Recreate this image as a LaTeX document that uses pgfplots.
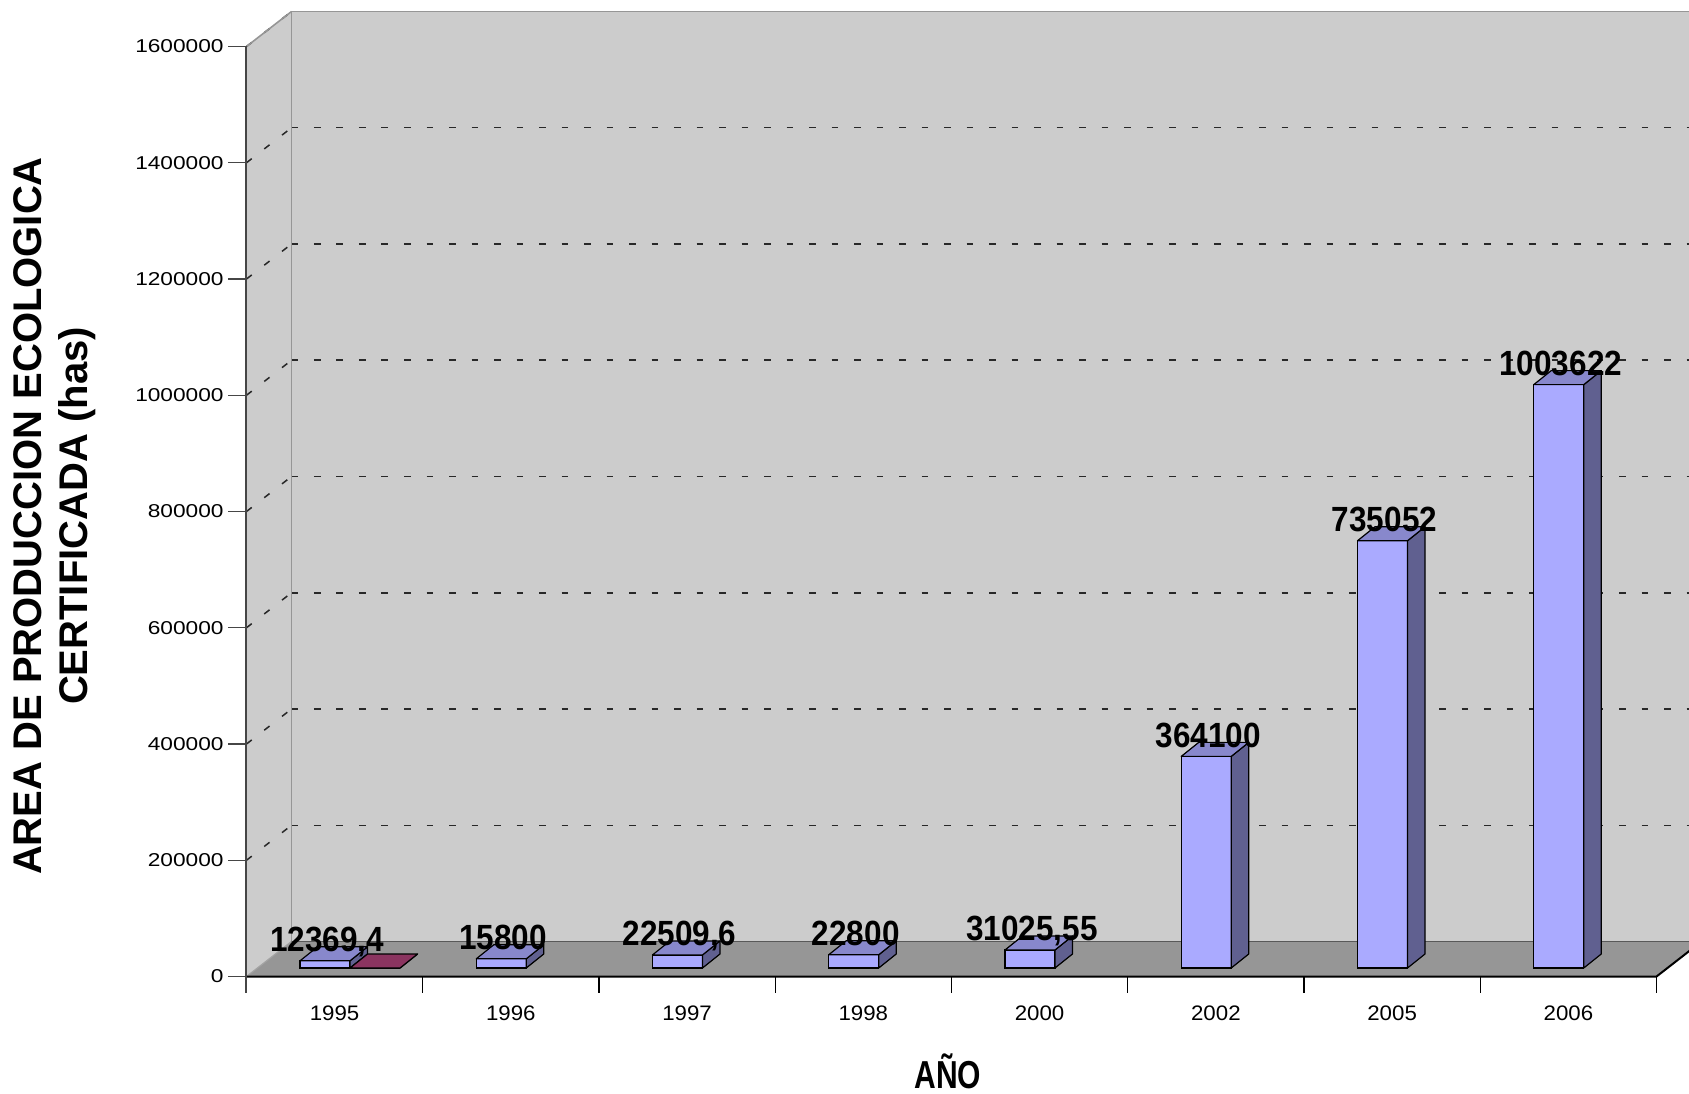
\documentclass[border=0pt]{standalone}
\usepackage{pgfplots}
\pgfplotsset{compat=1.18}
\usepackage{pgfplotstable}
\usepackage{fontspec}
\setmainfont{Liberation Sans}
\newfontfamily\ytickfont[FakeStretch=1.22]{Liberation Sans}
\newfontfamily\xtickfont[FakeStretch=1.06]{Liberation Sans}
\newfontfamily\valfont[FakeStretch=0.9]{Liberation Sans}
\newfontfamily\xtitlefont[FakeStretch=0.77]{Liberation Sans}

\definecolor{wallc}{RGB}{204,204,204}
\definecolor{floorc}{RGB}{150,150,150}
\definecolor{edgec}{RGB}{150,150,150}
\definecolor{barfront}{RGB}{170,170,255}
\definecolor{bartop}{RGB}{136,136,204}
\definecolor{barside}{RGB}{96,96,144}
\definecolor{maroonfront}{RGB}{153,51,102}
\definecolor{maroontop}{RGB}{139,52,96}
\definecolor{maroonside}{RGB}{100,35,70}
\definecolor{gridc}{RGB}{40,40,40}
\definecolor{axisc}{RGB}{70,70,70}

\pgfdeclareplotmark{empty}{}

\pgfplotstableread{
i   v          lbl
0   12369.4    12369,4
1   15800      15800
2   22509.6    22509,6
3   22800      22800
4   31025.55   31025,55
5   364100     364100
6   735052     735052
7   1003622    1003622
}\seriesA
\pgfplotstableread{
i   v
0   0
}\seriesB

\pgfplotsset{
  cuboid/.style 2 args={
    scatter, only marks, mark=empty,
    point meta=explicit, point meta min=0, point meta max=1600000,
    scatter/@pre marker code/.code={%
      \pgfmathsetmacro\hh{\pgfplotspointmetatransformed*0.465}%
      \fill[#2, draw=black, line width=0.6pt, line join=round]
        (12.5pt,0pt) -- (21.25pt,7pt) -- (21.25pt,{\hh pt+7pt}) -- (12.5pt,{\hh pt}) -- cycle;
      \fill[#1, draw=black, line width=0.6pt, line join=round]
        (-12.5pt,{\hh pt}) -- (12.5pt,{\hh pt}) -- (21.25pt,{\hh pt+7pt}) -- (-3.75pt,{\hh pt+7pt}) -- cycle;
    },
    scatter/@post marker code/.code={},
  },
}

\begin{document}
\begin{tikzpicture}
\useasboundingbox (-128.75pt,-62.5pt) rectangle (715.75pt,484pt);
\begin{axis}[
  at={(0pt,0pt)}, anchor=south west,
  scale only axis, width=705pt, height=465pt,
  xmin=0, xmax=8, ymin=0, ymax=1600000,
  clip=false,
  axis line style={draw=none},
  tick style={draw=none},
  major tick length=0pt,
  scaled y ticks=false,
  xtick={0.5,1.5,2.5,3.5,4.5,5.5,6.5,7.5},
  xticklabels={1995,1996,1997,1998,2000,2002,2005,2006},
  ytick={0,200000,400000,600000,800000,1000000,1200000,1400000,1600000},
  yticklabels={0,200000,400000,600000,800000,1000000,1200000,1400000,1600000},
  xticklabel style={font=\xtickfont\fontsize{10.5}{12}\selectfont, anchor=north, inner sep=0pt, xshift=-5.5pt, yshift=-18.5pt},
  yticklabel style={font=\ytickfont\fontsize{9.3}{11}\selectfont, anchor=east, inner sep=0pt, xshift=-16.75pt, yshift=-4.25pt},
  xlabel={AÑO},
  xlabel style={at={(axis description cs:0.4897,0)}, anchor=base, yshift=-60pt, inner sep=0pt,
    font=\xtitlefont\bfseries\fontsize{19.5}{22}\selectfont},
  ylabel={AREA DE PRODUCCION ECOLOGICA\\CERTIFICADA (has)},
  ylabel style={at={(axis description cs:-0.1436,0.486)}, anchor=center, align=center,
    font=\bfseries\fontsize{20}{23}\selectfont},
]
% back wall
\fill[wallc] ([xshift=17pt,yshift=13.25pt]axis cs:0,0) rectangle ([xshift=17pt,yshift=13.25pt]axis cs:8.3,1600000);
% side wall
\fill[wallc] ([xshift=-5.5pt,yshift=-4.25pt]axis cs:0,0) -- ([xshift=-5.5pt,yshift=-4.25pt]axis cs:0,1600000)
  -- ([xshift=17pt,yshift=13.25pt]axis cs:0,1600000) -- ([xshift=17pt,yshift=13.25pt]axis cs:0,0) -- cycle;
% gridlines
\pgfplotsinvokeforeach{0,200000,400000,600000,800000,1000000,1200000,1400000}{
  \draw[gridc, dash pattern=on 3.35pt off 7.9pt, line width=0.75pt]
    ([xshift=17pt,yshift=13.25pt]axis cs:0,#1) -- ([xshift=17pt,yshift=13.25pt]axis cs:8.3,#1);
}
\pgfplotsinvokeforeach{200000,400000,600000,800000,1000000,1200000,1400000,1600000}{
  \draw[gridc, dash pattern=on 3.35pt off 7.9pt, line width=0.75pt]
    ([xshift=-5.5pt,yshift=-4.25pt]axis cs:0,#1) -- ([xshift=17pt,yshift=13.25pt]axis cs:0,#1);
}
% wall edges
\draw[edgec, line width=0.8pt] ([xshift=17pt,yshift=13.25pt]axis cs:0,0) -- ([xshift=17pt,yshift=13.25pt]axis cs:0,1600000)
  -- ([xshift=17pt,yshift=13.25pt]axis cs:8.3,1600000);
\draw[edgec, line width=0.8pt] ([xshift=-5.5pt,yshift=-4.25pt]axis cs:0,1600000) -- ([xshift=17pt,yshift=13.25pt]axis cs:0,1600000);
% floor
\fill[floorc] ([xshift=-5.5pt,yshift=-4.25pt]axis cs:0,0) -- ([xshift=-5.5pt,yshift=-4.25pt]axis cs:8,0)
  -- ([xshift=17pt,yshift=13.25pt]axis cs:8,0) -- ([xshift=17pt,yshift=13.25pt]axis cs:0,0) -- cycle;
\draw[gray!70!black, line width=0.6pt] ([xshift=17pt,yshift=13.25pt]axis cs:0,0) -- ([xshift=17pt,yshift=13.25pt]axis cs:8.3,0);
\draw[wallc!80!black, line width=0.6pt] ([xshift=-5.5pt,yshift=-4.25pt]axis cs:0,0) -- ([xshift=17pt,yshift=13.25pt]axis cs:0,0);
\draw[black, line width=1pt] ([xshift=-5.5pt,yshift=-4.25pt]axis cs:0,0) -- ([xshift=-5.5pt,yshift=-4.25pt]axis cs:8,0)
  -- ([xshift=17pt,yshift=13.25pt]axis cs:8,0);
% front y axis line and ticks
\draw[axisc, line width=1pt] ([xshift=-5.5pt,yshift=-4.25pt]axis cs:0,1600000) -- ([xshift=-5.5pt,yshift=-4.25pt]axis cs:0,0) -- ++(0,-8pt);
\pgfplotsinvokeforeach{0,200000,400000,600000,800000,1000000,1200000,1400000,1600000}{
  \draw[axisc, line width=0.6pt] ([xshift=-5.5pt,yshift=-4.25pt]axis cs:0,#1) -- ++(-9pt,0);
}
\pgfplotsinvokeforeach{1,2,3,4,5,6,7,8}{
  \draw[black, line width=0.6pt] ([xshift=-5.5pt,yshift=-4.25pt]axis cs:#1,0) -- ++(0,-8pt);
}
% bars: front faces
\addplot[ybar, bar width=25pt, bar shift=0pt, fill=barfront, draw=black, line width=0.6pt]
  table[x expr=\thisrow{i}+0.383, y=v] {\seriesA};
\addplot[ybar, bar width=25pt, bar shift=0pt, fill=maroonfront, draw=black, line width=0.6pt]
  table[x expr=\thisrow{i}+0.667, y=v] {\seriesB};
% bars: top and side faces
\addplot[cuboid={bartop}{barside}] table[x expr=\thisrow{i}+0.383, y expr=0, meta=v] {\seriesA};
\addplot[cuboid={maroontop}{maroonside}] table[x expr=\thisrow{i}+0.667, y expr=0, meta=v] {\seriesB};
% value labels
\addplot[only marks, mark=empty, point meta=explicit symbolic, nodes near coords,
  every node near coord/.append style={font=\valfont\bfseries\fontsize{17.5}{20}\selectfont,
    anchor=base, inner sep=0pt, xshift=1pt, yshift=4.5pt, text=black}]
  table[x expr=\thisrow{i}+0.383, y=v, meta=lbl] {\seriesA};
\end{axis}
\end{tikzpicture}
\end{document}
